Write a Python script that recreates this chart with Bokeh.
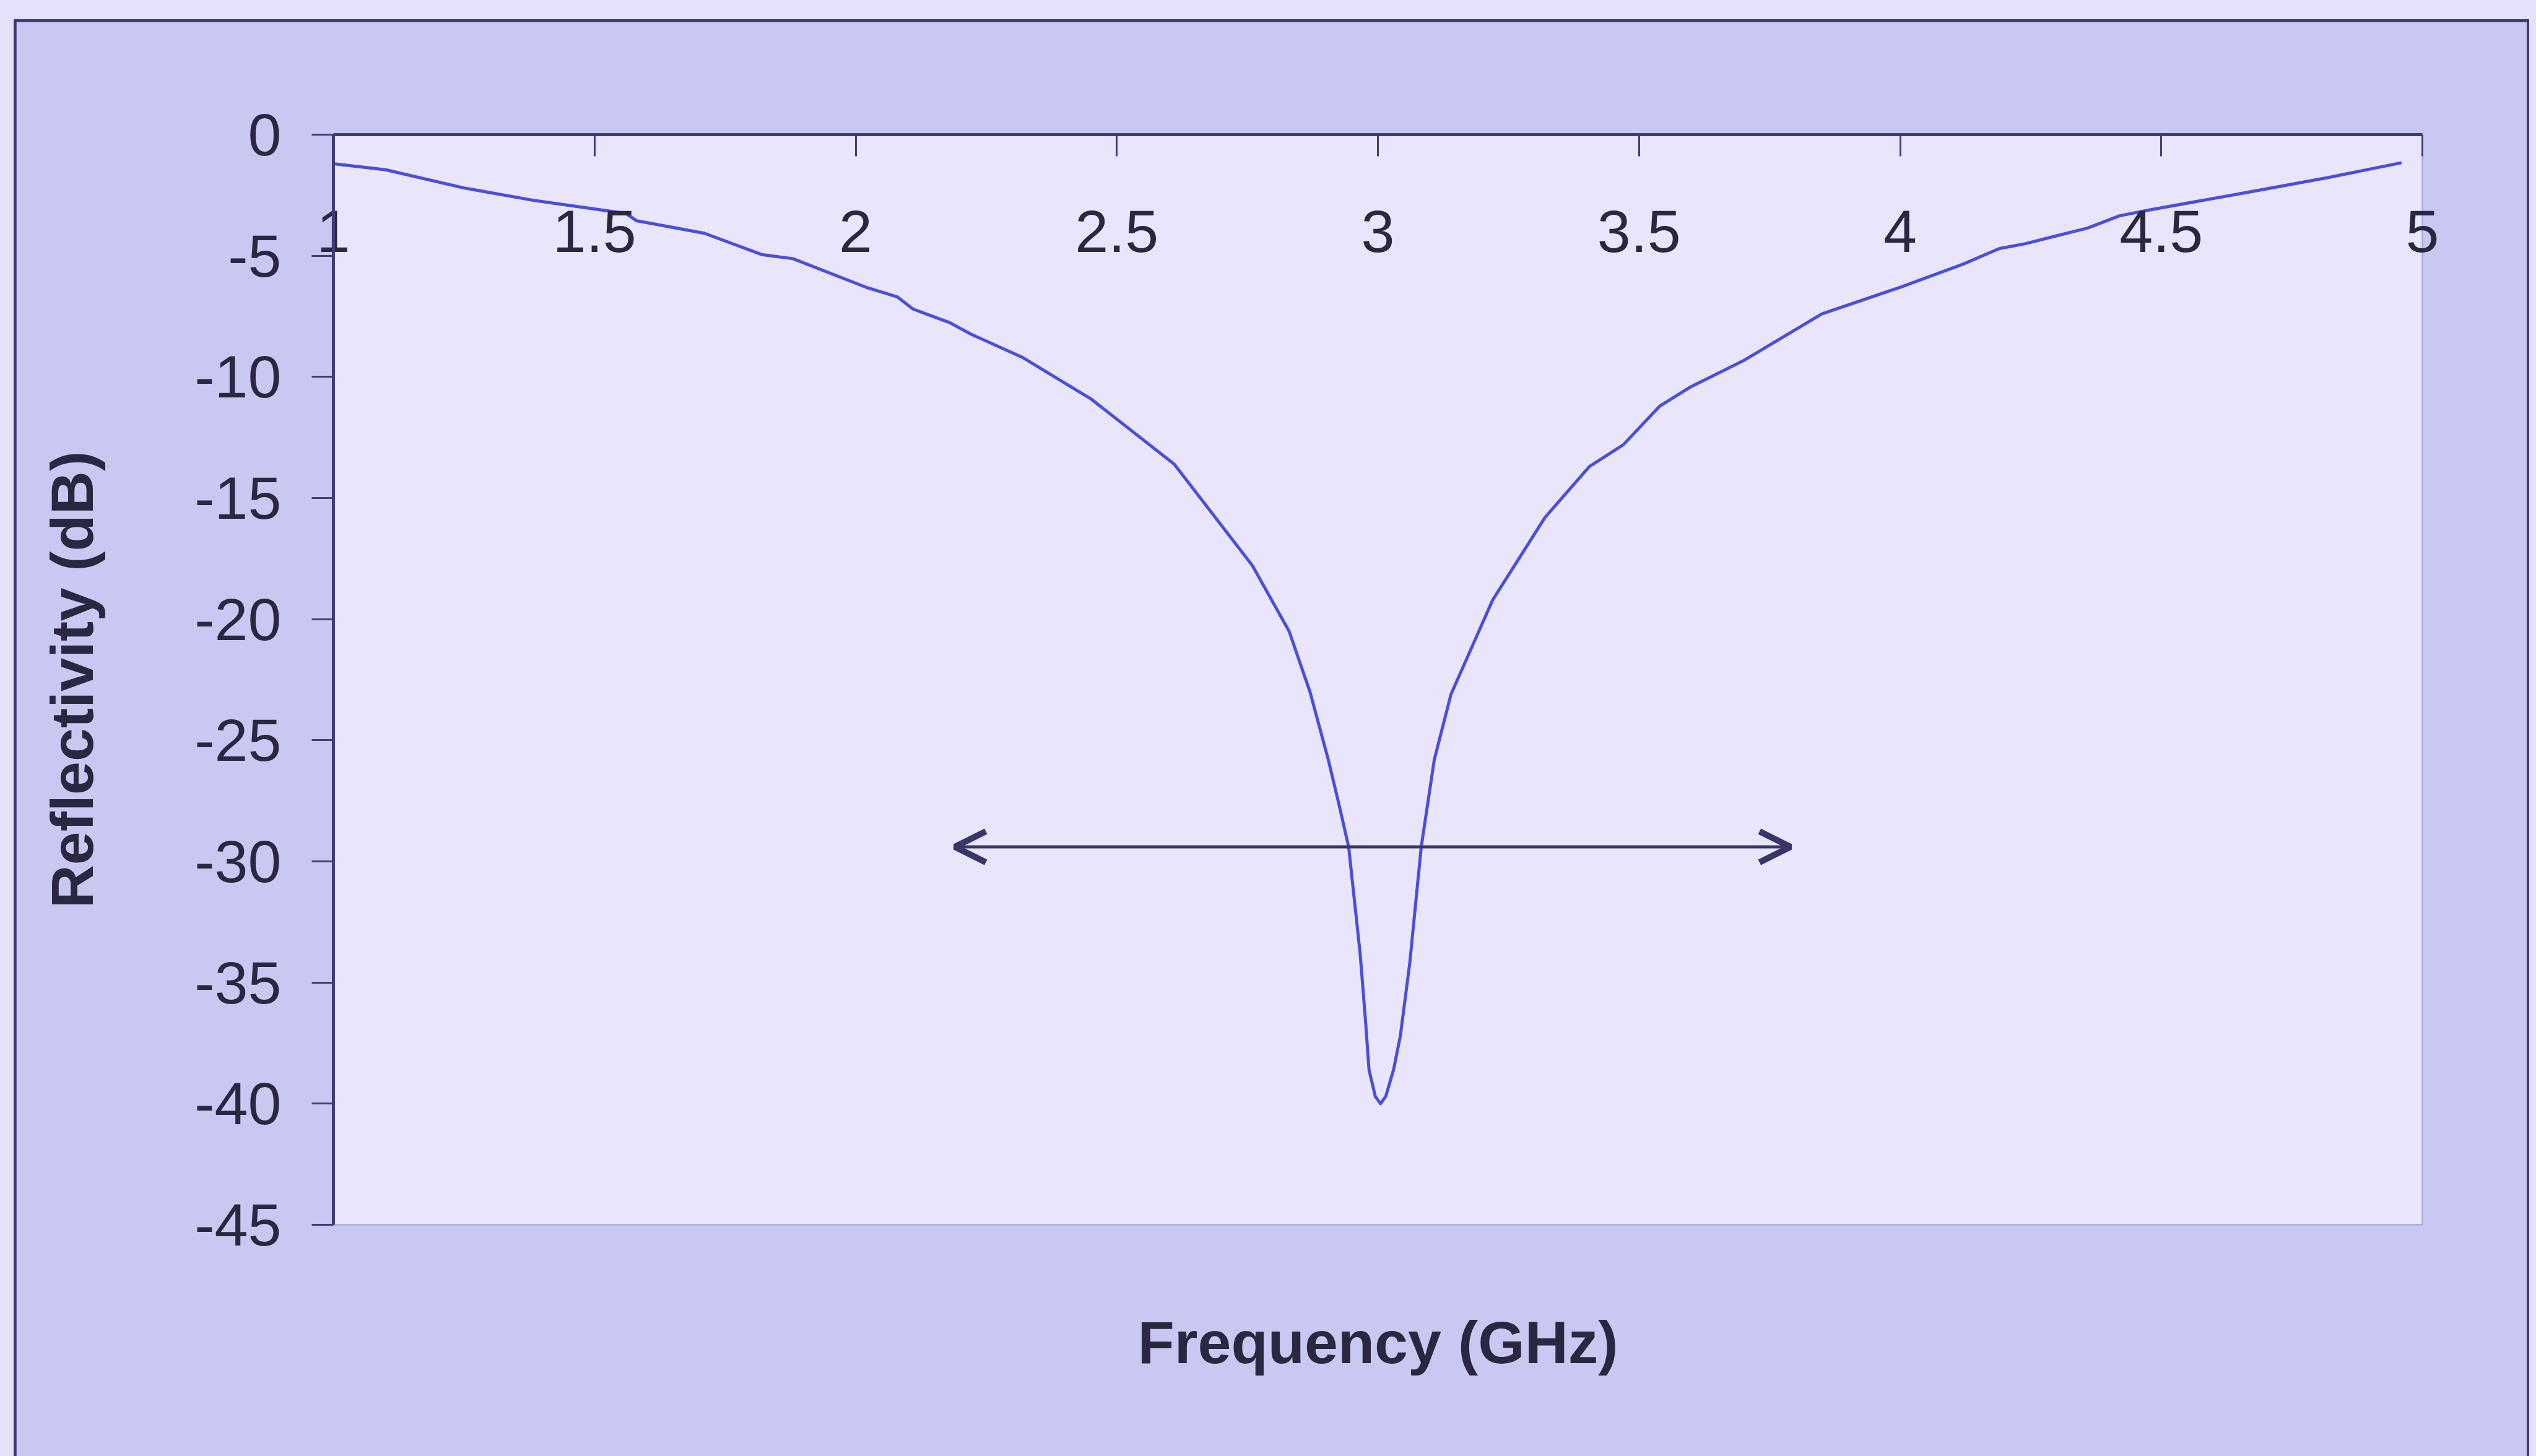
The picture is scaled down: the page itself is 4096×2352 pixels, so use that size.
from bokeh.plotting import figure
from bokeh.layouts import column
from bokeh.models import (LinearAxis, FixedTicker, Range1d, Arrow, OpenHead,
                          ColumnDataSource)
from bokeh.embed import file_html
from bokeh.resources import INLINE

# Measured reflectivity of the absorber vs frequency
freq_ghz = [1.0, 1.1, 1.25, 1.38, 1.56, 1.58, 1.71, 1.82, 1.88, 2.02, 2.08,
            2.11, 2.18, 2.22, 2.32, 2.45, 2.61, 2.76, 2.83, 2.87, 2.905,
            2.925, 2.944, 2.966, 2.976, 2.983, 2.995, 3.005, 3.015, 3.03,
            3.043, 3.061, 3.083, 3.108, 3.14, 3.22, 3.32, 3.405, 3.47, 3.54,
            3.60, 3.70, 3.85, 4.0, 4.12, 4.19, 4.24, 4.36, 4.42, 4.48, 4.66,
            4.82, 4.96]
reflectivity_db = [-1.2, -1.45, -2.2, -2.7, -3.25, -3.55, -4.07, -4.95, -5.12,
                   -6.3, -6.7, -7.2, -7.76, -8.23, -9.2, -10.9, -13.6, -17.8,
                   -20.5, -23.0, -25.8, -27.6, -29.4, -33.8, -36.5, -38.6,
                   -39.7, -40.0, -39.7, -38.6, -37.2, -34.2, -29.4, -25.8,
                   -23.1, -19.2, -15.8, -13.7, -12.8, -11.2, -10.4, -9.33,
                   -7.4, -6.3, -5.35, -4.7, -4.5, -3.85, -3.35, -3.1, -2.4,
                   -1.77, -1.16]

x_ticks = [1, 1.5, 2, 2.5, 3, 3.5, 4, 4.5, 5]
x_tick_labels = ["1", "1.5", "2", "2.5", "3", "3.5", "4", "4.5", "5"]
y_ticks = [0, -5, -10, -15, -20, -25, -30, -35, -40, -45]
y_tick_labels = ["0", "-5", "-10", "-15", "-20", "-25", "-30", "-35", "-40", "-45"]

# Band below -10 dB marked by a double-headed arrow
band_ghz = [2.19, 3.79]
band_level_db = -29.4

W, H = 4096, 2352
PAD_L, PAD_T, PAD_R = 26, 35, 15
PW, PH = W - PAD_L - PAD_R, H - PAD_T

FONT = "Liberation Sans"
INK = "#2a2840"
AXIS = "#403d78"
PANEL = "#c9c8f2"
PAGE = "#e4e2fb"

p = figure(width=PW, height=PH, output_backend="svg", toolbar_location=None,
           x_range=Range1d(1, 5), y_range=Range1d(-45, 0),
           x_axis_location="above",
           min_border_left=538 - PAD_L, min_border_right=(W - 3912) - PAD_R,
           min_border_top=217 - PAD_T, min_border_bottom=H - 1978)
p.grid.visible = False
p.background_fill_color = "#e9e6fb"
p.border_fill_color = PANEL
p.outline_line_color = "#a3a0dc"
p.outline_line_width = 2
p.styles = {"outline": "5px solid #3d3a74", "outline-offset": "-1px"}

xa = p.xaxis[0]
xa.ticker = FixedTicker(ticks=x_ticks)
xa.major_label_overrides = {float(t): s for t, s in zip(x_ticks, x_tick_labels)}
xa.major_tick_in = 35
xa.major_tick_out = 0
xa.minor_tick_line_color = None
xa.major_label_standoff = -189
xa.axis_line_color = AXIS
xa.axis_line_width = 5
xa.major_tick_line_color = AXIS
xa.major_tick_line_width = 3
xa.major_label_text_font = FONT
xa.major_label_text_font_size = "97px"
xa.major_label_text_color = INK

ya = p.yaxis[0]
ya.ticker = FixedTicker(ticks=y_ticks)
ya.major_label_overrides = {float(t): s for t, s in zip(y_ticks, y_tick_labels)}
ya.major_tick_in = 0
ya.major_tick_out = 35
ya.minor_tick_line_color = None
ya.major_label_standoff = 49
ya.axis_line_color = AXIS
ya.axis_line_width = 5
ya.major_tick_line_color = AXIS
ya.major_tick_line_width = 3
ya.major_label_text_font = FONT
ya.major_label_text_font_size = "97px"
ya.major_label_text_color = INK
ya.axis_label = "Reflectivity (dB)"
ya.axis_label_text_font = FONT
ya.axis_label_text_font_size = "97px"
ya.axis_label_text_font_style = "bold"
ya.axis_label_text_color = INK
ya.axis_label_standoff = 140

xb = LinearAxis(ticker=FixedTicker(ticks=[]), axis_label="Frequency (GHz)",
                axis_line_color=None, major_tick_line_color=None,
                minor_tick_line_color=None, major_label_text_font_size="0px",
                axis_label_standoff=135, axis_label_text_font=FONT,
                axis_label_text_font_size="97px",
                axis_label_text_font_style="bold",
                axis_label_text_color=INK)
p.add_layout(xb, "below")

src = ColumnDataSource(dict(f=freq_ghz, r=reflectivity_db))
p.line("f", "r", source=src, line_width=5, line_color="#4a4edb",
       line_join="round")

head = dict(size=50, line_width=10, line_color="#383569")
p.add_layout(Arrow(start=OpenHead(**head), end=OpenHead(**head),
                   x_start=band_ghz[0], y_start=band_level_db,
                   x_end=band_ghz[1], y_end=band_level_db,
                   line_width=5, line_color="#383569"))

root = column(p, styles={"background-color": PAGE,
                         "padding": f"{PAD_T}px {PAD_R}px 0px {PAD_L}px"})

open("out.html", "w").write(file_html(root, INLINE))
